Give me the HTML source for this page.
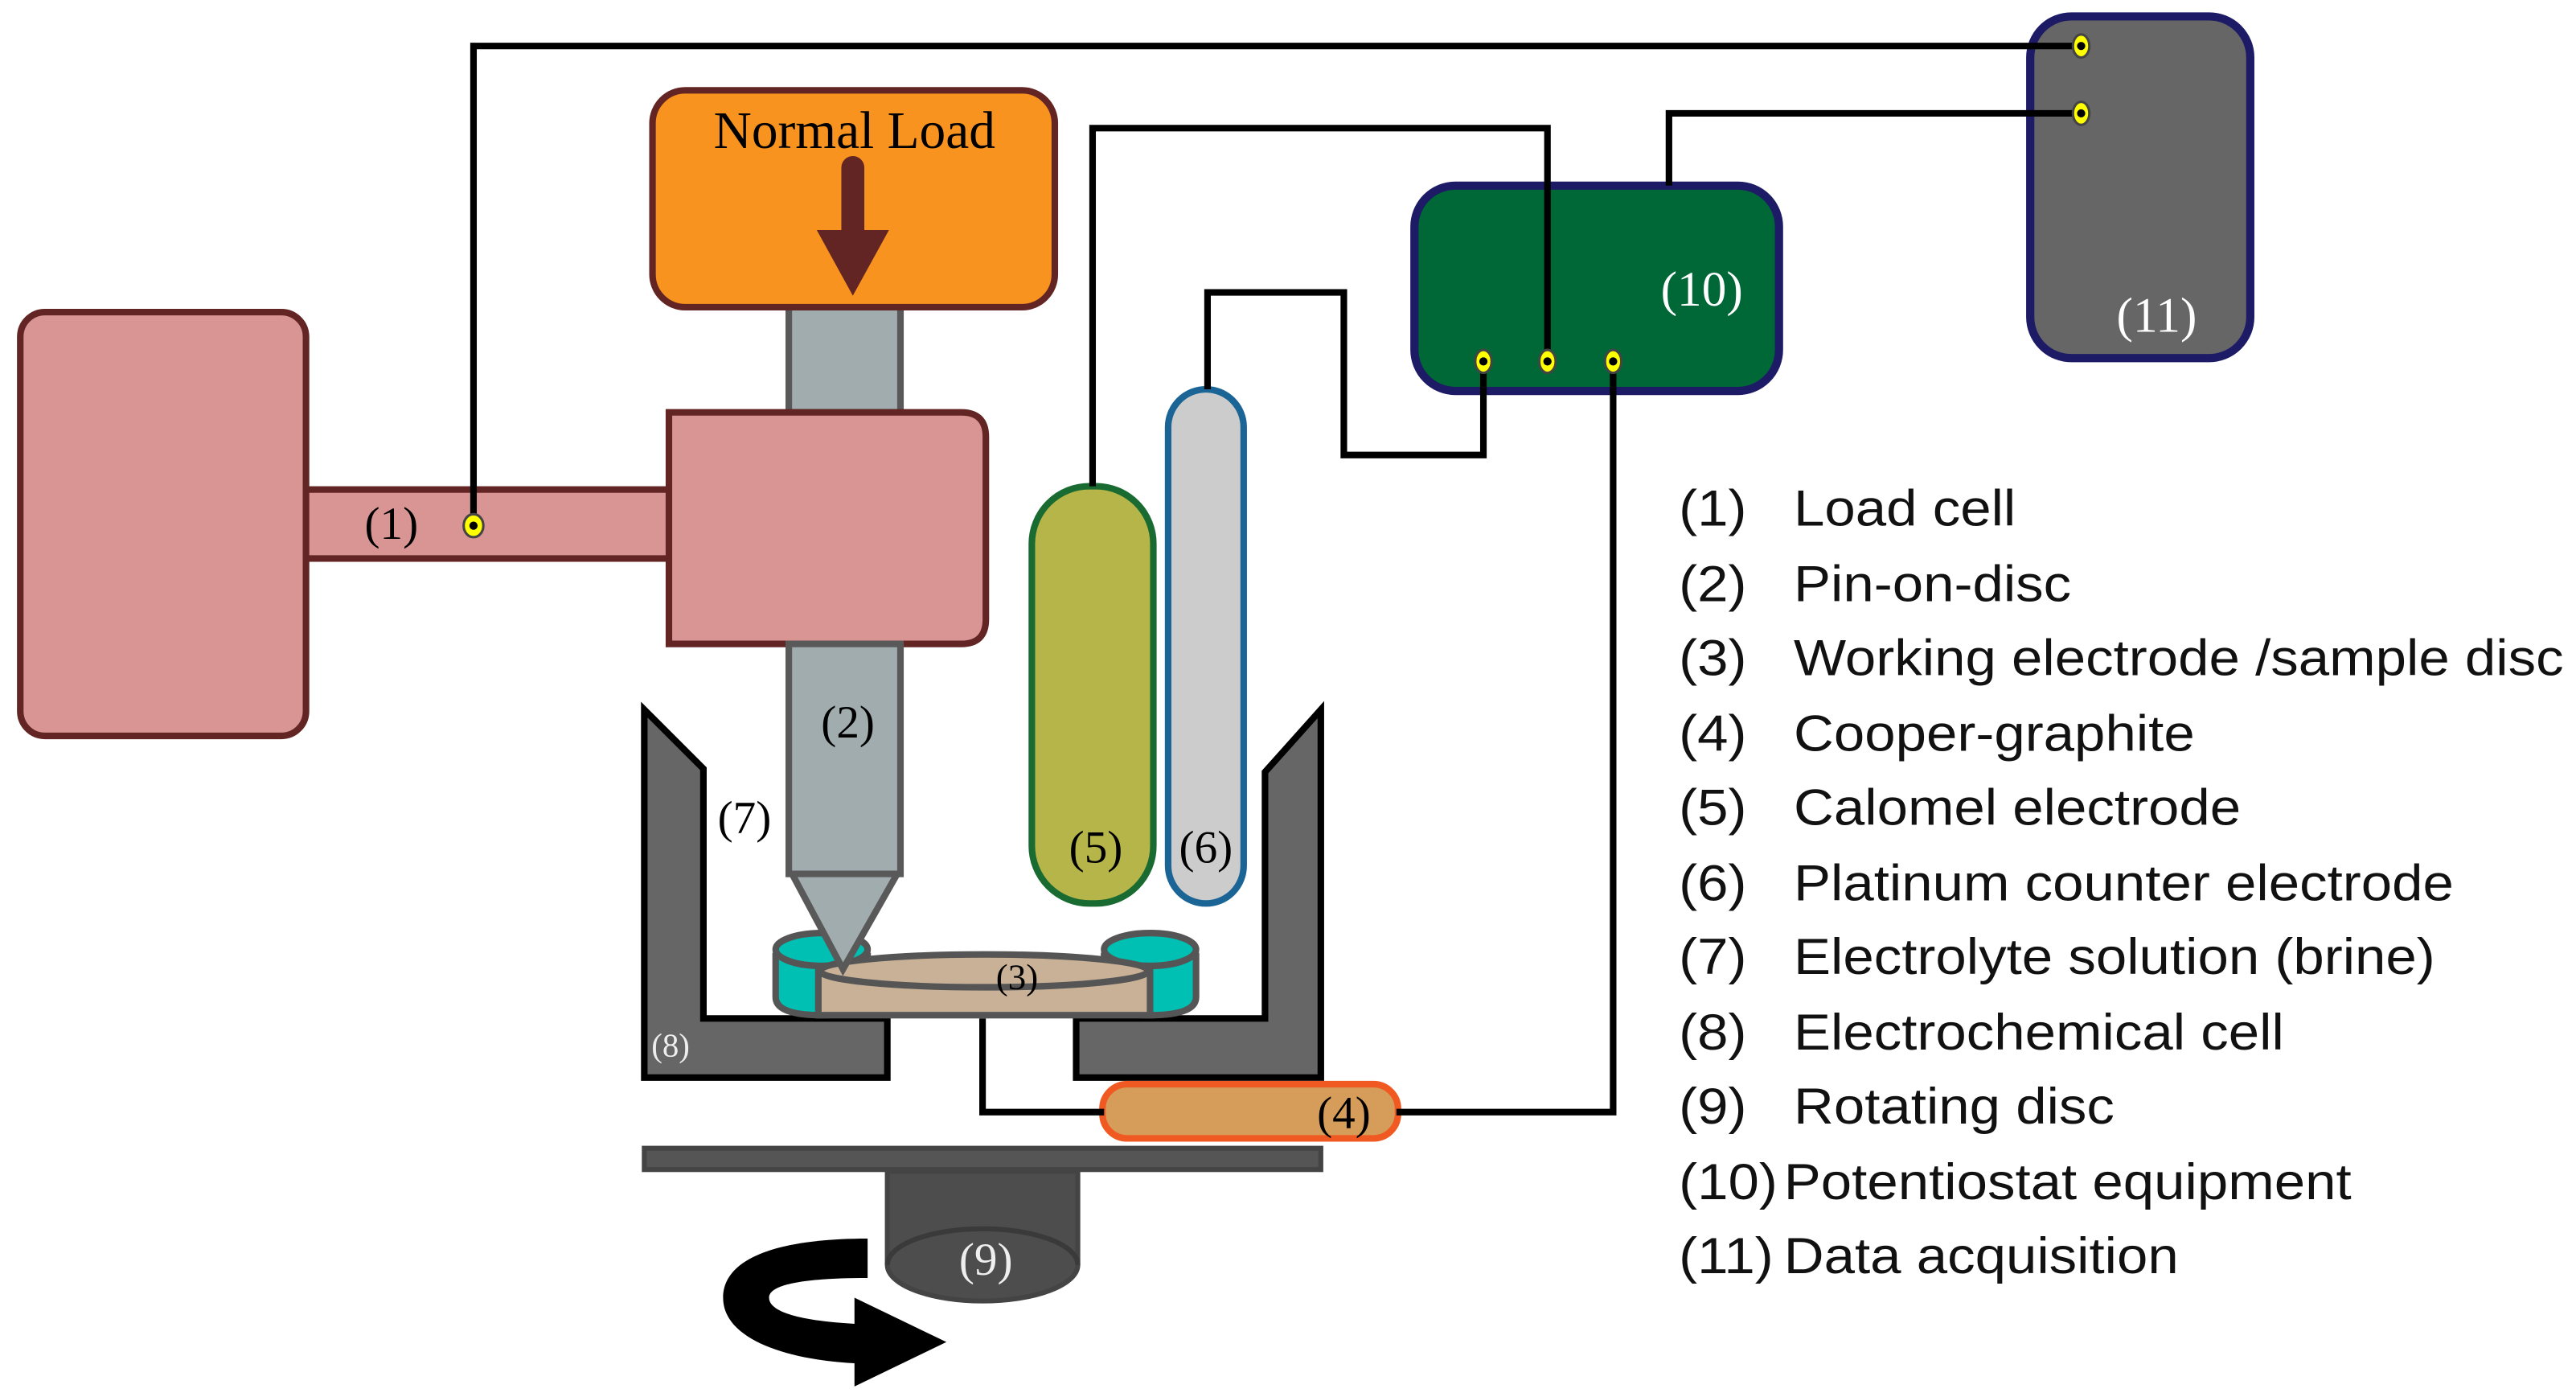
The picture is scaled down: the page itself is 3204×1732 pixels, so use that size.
<!DOCTYPE html>
<html><head><meta charset="utf-8"><style>
html,body{margin:0;padding:0;background:#fff;}
svg{display:block;}
.s{font-family:"Liberation Serif",serif;}
.l{font-family:"Liberation Sans",sans-serif;font-size:31px;fill:#111;}
</style></head><body>
<svg width="3204" height="1732" viewBox="0 0 1568 848" xmlns="http://www.w3.org/2000/svg">
<rect width="1568" height="848" fill="#fff"/>
<!-- left load cell -->
<rect x="12" y="190" width="174" height="258" rx="15" fill="#d99594" stroke="#632523" stroke-width="4"/>
<rect x="186" y="298" width="222" height="42" fill="#d99594" stroke="#632523" stroke-width="4"/>
<!-- gray shaft top -->
<rect x="480" y="187" width="68" height="64" fill="#a0acad" stroke="#595959" stroke-width="4"/>
<path d="M407 251 H585 Q600 251 600 266 V377 Q600 392 585 392 H407 Z" fill="#d99594" stroke="#632523" stroke-width="4"/>
<!-- orange box -->
<rect x="397" y="55" width="245" height="132" rx="20" fill="#f7931e" stroke="#632523" stroke-width="4"/>
<text x="520" y="90" text-anchor="middle" class="s" font-size="32">Normal Load</text>
<line x1="519" y1="102" x2="519" y2="145" stroke="#632523" stroke-width="14" stroke-linecap="round"/>
<polygon points="497,140 541,140 519,180" fill="#632523"/>
<text x="238" y="328" text-anchor="middle" class="s" font-size="28">(1)</text>
<!-- cell 8 -->
<polygon points="392,432 428,468 428,620 540,620 540,656 392,656" fill="#666" stroke="#000" stroke-width="4" stroke-linejoin="miter"/>
<polygon points="804,432 804,656 655,656 655,620 770,620 770,470" fill="#666" stroke="#000" stroke-width="4"/>
<text x="408" y="643" text-anchor="middle" class="s" font-size="20" fill="#eee">(8)</text>
<text x="453" y="507" text-anchor="middle" class="s" font-size="28">(7)</text>
<!-- cylinders -->
<g stroke="#555" stroke-width="4">
<path d="M472 580 V607 Q472 618 500 618 Q528 618 528 607 V580" fill="#00bfb3"/>
<ellipse cx="500" cy="578" rx="28" ry="10" fill="#00bfb3"/>
<path d="M672 580 V607 Q672 618 700 618 Q728 618 728 607 V580" fill="#00bfb3"/>
<ellipse cx="700" cy="578" rx="28" ry="10" fill="#00bfb3"/>
<rect x="498" y="591" width="202" height="27" fill="#c8b196"/>
<ellipse cx="599" cy="591" rx="100" ry="10" fill="#c8b196"/>
</g>
<text x="619" y="602" text-anchor="middle" class="s" font-size="22">(3)</text>
<!-- pin -->
<rect x="480" y="392" width="68" height="140" fill="#a0acad" stroke="#595959" stroke-width="4"/>
<polygon points="482,532 546,532 513,590" fill="#a0acad" stroke="#595959" stroke-width="4"/>
<text x="516" y="449" text-anchor="middle" class="s" font-size="28">(2)</text>
<!-- electrodes -->
<rect x="628" y="296" width="74" height="254" rx="35" fill="#b5b54a" stroke="#1a6b32" stroke-width="4"/>
<text x="667" y="525" text-anchor="middle" class="s" font-size="28">(5)</text>
<rect x="711" y="237" width="46" height="313" rx="23" fill="#ccc" stroke="#1b6496" stroke-width="4"/>
<text x="734" y="525" text-anchor="middle" class="s" font-size="28">(6)</text>
<!-- (4) -->
<rect x="671" y="660" width="180" height="33" rx="15" fill="#d69d5a" stroke="#f05a22" stroke-width="4"/>
<text x="818" y="687" text-anchor="middle" class="s" font-size="28">(4)</text>
<!-- rotating disc -->
<rect x="392" y="699" width="412" height="13" fill="#555" stroke="#444" stroke-width="3"/>
<path d="M540 713 V770 A58 22 0 0 0 656 770 V713 Z" fill="#4d4d4d" stroke="#444" stroke-width="3"/>
<path d="M540 770 A58 22 0 0 1 656 770" fill="none" stroke="#3a3a3a" stroke-width="3"/>
<text x="600" y="776" text-anchor="middle" class="s" font-size="28" fill="#eee">(9)</text>
<!-- rotation arrow -->
<path d="M528 754 C468 754 440 768 440 790 C440 815 478 828 522 830 L522 806 C484 804 468 798 468 790 C468 781 494 778 528 778 Z" fill="#000"/>
<polygon points="520,790 576,817 520,844" fill="#000"/>
<!-- box 10 -->
<rect x="861" y="113" width="222" height="125" rx="25" fill="#006837" stroke="#1d1a66" stroke-width="5"/>
<text x="1036" y="186" text-anchor="middle" class="s" font-size="30" fill="#fff">(10)</text>
<!-- box 11 -->
<rect x="1236" y="10" width="134" height="208" rx="25" fill="#666" stroke="#1d1a66" stroke-width="5"/>
<text x="1313" y="202" text-anchor="middle" class="s" font-size="30" fill="#fff">(11)</text>
<!-- wires -->
<g fill="none" stroke="#000" stroke-width="4">
<polyline points="288,320 288,28 1267,28"/>
<polyline points="1016,113 1016,69 1267,69"/>
<polyline points="665,296 665,78 942,78 942,220"/>
<polyline points="735,237 735,178 818,178 818,277 903,277 903,220"/>
<polyline points="982,220 982,677 850,677"/>
<polyline points="598,620 598,677 672,677"/>
</g>
<g fill="#ff0" stroke="#444" stroke-width="1.5">
<ellipse cx="288" cy="320" rx="6" ry="7"/>
<ellipse cx="903" cy="220" rx="5" ry="7"/>
<ellipse cx="942" cy="220" rx="5" ry="7"/>
<ellipse cx="982" cy="220" rx="5" ry="7"/>
<ellipse cx="1267" cy="28" rx="5" ry="7"/>
<ellipse cx="1267" cy="69" rx="5" ry="7"/>
</g>
<g fill="#000">
<circle cx="288" cy="320" r="2.5"/>
<circle cx="903" cy="220" r="2.5"/><circle cx="942" cy="220" r="2.5"/><circle cx="982" cy="220" r="2.5"/>
<circle cx="1267" cy="28" r="2.5"/><circle cx="1267" cy="69" r="2.5"/>
</g>
<!-- legend -->
<g class="l" transform="translate(1022,0) scale(1.09,1) translate(-1022,0)">
<text x="1022" y="320">(1)</text><text x="1086.2" y="320">Load cell</text>
<text x="1022" y="366">(2)</text><text x="1086.2" y="366">Pin-on-disc</text>
<text x="1022" y="411">(3)</text><text x="1086.2" y="411">Working electrode /sample disc</text>
<text x="1022" y="457">(4)</text><text x="1086.2" y="457">Cooper-graphite</text>
<text x="1022" y="502">(5)</text><text x="1086.2" y="502">Calomel electrode</text>
<text x="1022" y="548">(6)</text><text x="1086.2" y="548">Platinum counter electrode</text>
<text x="1022" y="593">(7)</text><text x="1086.2" y="593">Electrolyte solution (brine)</text>
<text x="1022" y="639">(8)</text><text x="1086.2" y="639">Electrochemical cell</text>
<text x="1022" y="684">(9)</text><text x="1086.2" y="684">Rotating disc</text>
<text x="1022" y="730">(10)</text><text x="1080.7" y="730">Potentiostat equipment</text>
<text x="1022" y="775">(11)</text><text x="1080.7" y="775">Data acquisition</text>
</g>
</svg>
</body></html>
